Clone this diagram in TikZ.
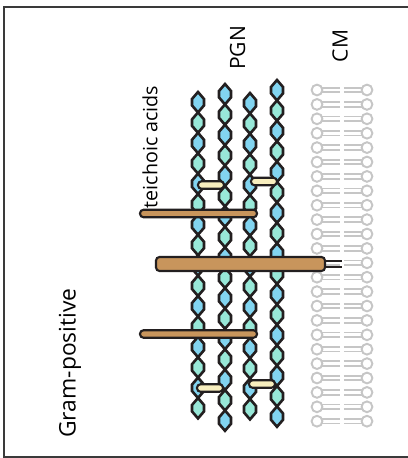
\documentclass[tikz,border=0pt]{standalone}
\usepackage{fontspec}
\setmainfont{Open Sans}
\usepackage{tikz}
\usetikzlibrary{positioning, calc}
\definecolor{outline}{HTML}{231F20}
\definecolor{glycblue}{HTML}{82D4F0}
\definecolor{glycteal}{HTML}{98E8D8}
\definecolor{rodbrown}{HTML}{C8955C}
\definecolor{bridgeyellow}{HTML}{F8EEBE}
\definecolor{lipidgray}{HTML}{C6C6C6}
\definecolor{framegray}{HTML}{3A3A3A}
\tikzset{
  hexunit/.style = {draw=outline, line width=1.5pt, line join=miter},
  rod/.style     = {rectangle, rounded corners=0.07cm, draw=outline,
                    line width=1.2pt, fill=rodbrown, inner sep=0pt},
  bridge/.style  = {rectangle, rounded corners=0.07cm, draw=outline,
                    line width=1.2pt, fill=bridgeyellow, inner sep=0pt,
                    minimum width=0.52cm, minimum height=0.15cm},
  lipid/.style   = {draw=lipidgray, line width=1.1pt},
  anchorline/.style = {draw=outline, line width=1pt},
  lbl/.style     = {inner sep=0pt, text=black},
}

\begin{document}
\begin{tikzpicture}[x=0.02cm, y=-0.02cm]
  \useasboundingbox (0,0) rectangle (408,458);
  \draw[framegray, line width=1pt] (4,7) rectangle (412,457);

  % glycan strands of the peptidoglycan, x / top / last index
  \foreach \cx/\ctop/\cn in {198/92/15, 225/84/16, 250/93/15, 277/80/16} {
    \foreach \i in {0,...,\cn} {
      \pgfmathsetmacro\t{\ctop+\i*20.4}
      \pgfmathtruncatemacro\odd{mod(\i,2)}
      \ifnum\odd=0 \def\col{glycblue}\else \def\col{glycteal}\fi
      \filldraw[hexunit, fill=\col] (\cx,\t) -- ++(6,7) -- ++(0,6.4)
        -- ++(-6,7) -- ++(-6,-7) -- ++(0,-6.4) -- cycle;
    }
  }

  % peptide cross-bridges
  \node[bridge] (br1) at (211,185) {};
  \node[bridge] (br2) at (264,181.5) {};
  \node[bridge] (br3) at (210,388) {};
  \node[bridge] (br4) at (262,384) {};

  % cytoplasmic membrane
  \foreach \j in {0,...,23} {
    \pgfmathsetmacro\ly{90+\j*14.4}
    \draw[lipid] (317,\ly) circle[radius=5.4];
    \draw[lipid] (367,\ly) circle[radius=5.4];
    \draw[lipid] (322.4,\ly-2.3) -- (340,\ly-2.3)
                 (322.4,\ly+2.3) -- (340,\ly+2.3);
    \draw[lipid] (344,\ly-2.3) -- (361.6,\ly-2.3)
                 (344,\ly+2.3) -- (361.6,\ly+2.3);
  }

  % wall and lipoteichoic acids
  \node[rod, minimum width=2.34cm, minimum height=0.15cm] (ta1) at (198.5,213.5) {};
  \node[rod, minimum width=2.34cm, minimum height=0.15cm] (ta2) at (198.5,334) {};
  \node[rod, minimum width=3.38cm, minimum height=0.28cm] (lta) at (240.5,264) {};
  \draw[anchorline] ([yshift=0.06cm]lta.east) -- ++(16,0);
  \draw[anchorline] ([yshift=-0.06cm]lta.east) -- ++(16,0);

  \node[lbl, rotate=90, font=\fontsize{11.2}{13}\selectfont] (ta) at (150,147) {teichoic acids};
  \node[lbl, rotate=90, font=\fontsize{12}{14}\selectfont] (pgn) at (237.5,48) {PGN};
  \node[lbl, rotate=90, font=\fontsize{12}{14}\selectfont] (cm) at (340,46) {CM};
  \node[lbl, rotate=90, font=\fontsize{13}{15}\selectfont] (gp) at (70,363) {Gram-positive};
\end{tikzpicture}
\end{document}
